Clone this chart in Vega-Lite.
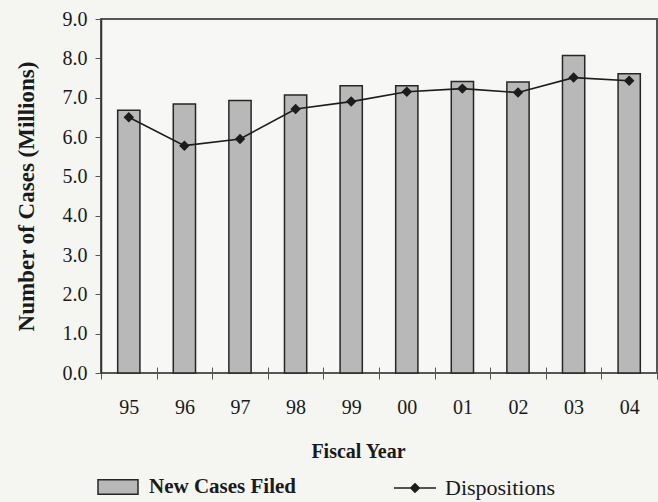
{
  "$schema": "https://vega.github.io/schema/vega-lite/v6.json",
  "width": 556,
  "height": 354,
  "autosize": {"type": "none"},
  "padding": {"left": 101, "top": 19, "right": 1, "bottom": 129},
  "background": "#f5f5f2",
  "config": {
    "font": "Liberation Serif",
    "view": {"stroke": "#555555", "strokeWidth": 2, "fill": "#f7f7f5"},
    "axis": {"labelFont": "Liberation Serif", "titleFont": "Liberation Serif"},
    "axisY": {
      "labelFont": "Liberation Serif",
      "labelFontSize": 20,
      "labelColor": "#1a1a1a",
      "labelPadding": 8,
      "labelOverlap": false,
      "tickSize": 6,
      "tickColor": "#555",
      "domainColor": "#333",
      "domainWidth": 1.5,
      "grid": true,
      "gridColor": "#555555",
      "gridWidth": 1.5,
      "gridOpacity": {"condition": {"test": "datum.value === 9", "value": 1}, "value": 0},
      "titleFontWeight": "bold",
      "titleFontSize": 23,
      "titleColor": "#1a1a1a",
      "titlePadding": 24
    },
    "axisX": {"domain": false},
    "legend": {"labelFont": "Liberation Serif", "titleFont": "Liberation Serif"}
  },
  "data": {
    "values": [
      {"year": "95", "filed": 6.68, "dispositions": 6.50},
      {"year": "96", "filed": 6.84, "dispositions": 5.78},
      {"year": "97", "filed": 6.93, "dispositions": 5.95},
      {"year": "98", "filed": 7.07, "dispositions": 6.71},
      {"year": "99", "filed": 7.30, "dispositions": 6.90},
      {"year": "00", "filed": 7.30, "dispositions": 7.15},
      {"year": "01", "filed": 7.41, "dispositions": 7.23},
      {"year": "02", "filed": 7.40, "dispositions": 7.13},
      {"year": "03", "filed": 8.07, "dispositions": 7.51},
      {"year": "04", "filed": 7.61, "dispositions": 7.43}
    ]
  },
  "encoding": {
    "x": {
      "field": "year",
      "type": "ordinal",
      "sort": null,
      "scale": {"paddingInner": 0, "paddingOuter": 0},
      "axis": {
        "title": "Fiscal Year",
        "titleFontWeight": "bold",
        "titleFontSize": 20,
        "titleColor": "#1a1a1a",
        "titleX": 257,
        "titleY": 90,
        "titleAlign": "center",
        "titleBaseline": "alphabetic",
        "labelAngle": 0,
        "labelFont": "Liberation Serif",
        "labelFontSize": 20,
        "labelColor": "#1a1a1a",
        "labelBaseline": "alphabetic",
        "labelPadding": 34,
        "labelOverlap": false,
        "domain": false,
        "offset": -6,
        "tickBand": "extent",
        "tickSize": 12,
        "tickColor": "#555",
        "tickWidth": 1
      }
    }
  },
  "layer": [
    {
      "mark": {"type": "bar", "width": {"band": 0.4}, "stroke": "#262626", "strokeWidth": 1.5},
      "encoding": {
        "y": {
          "field": "filed",
          "type": "quantitative",
          "scale": {"domain": [0, 9], "nice": false},
          "axis": {
            "title": "Number of Cases (Millions)",
            "values": [0, 1, 2, 3, 4, 5, 6, 7, 8, 9],
            "format": ".1f",
            "labelFont": "Liberation Serif"
          }
        },
        "fill": {
          "datum": "New Cases Filed",
          "type": "nominal",
          "scale": {"range": ["#b8b8b8"]},
          "legend": {
            "title": null,
            "orient": "none",
            "legendX": -4,
            "legendY": 447,
            "padding": 0,
            "symbolType": "M-1,-0.36H1V0.36H-1Z",
            "symbolSize": 1600,
            "symbolStrokeColor": "#262626",
            "symbolStrokeWidth": 1.5,
            "labelFont": "Liberation Serif",
            "labelFontSize": 21,
            "labelFontWeight": "bold",
            "labelColor": "#1a1a1a",
            "labelOffset": 10
          }
        }
      }
    },
    {
      "mark": {"type": "line", "strokeWidth": 1.6},
      "encoding": {
        "y": {
          "field": "dispositions",
          "type": "quantitative",
          "axis": {
            "title": "Number of Cases (Millions)",
            "values": [0, 1, 2, 3, 4, 5, 6, 7, 8, 9],
            "format": ".1f",
            "labelFont": "Liberation Serif"
          }
        },
        "stroke": {
          "datum": "Dispositions",
          "type": "nominal",
          "scale": {"range": ["#1c1c1c"]},
          "legend": {
            "title": null,
            "orient": "none",
            "legendX": 292,
            "legendY": 447,
            "padding": 0,
            "symbolType": "M-1,0H1M0,-0.2L0.2,0L0,0.2L-0.2,0Z",
            "symbolSize": 1764,
            "symbolFillColor": "#1c1c1c",
            "symbolStrokeWidth": 1.6,
            "labelFont": "Liberation Serif",
            "labelFontSize": 22,
            "labelColor": "#1a1a1a",
            "labelOffset": 8
          }
        }
      }
    },
    {
      "mark": {"type": "point", "shape": "diamond", "filled": true, "size": 110, "color": "#1c1c1c", "opacity": 1},
      "encoding": {
        "y": {
          "field": "dispositions",
          "type": "quantitative",
          "axis": {
            "title": "Number of Cases (Millions)",
            "values": [0, 1, 2, 3, 4, 5, 6, 7, 8, 9],
            "format": ".1f",
            "labelFont": "Liberation Serif"
          }
        }
      }
    }
  ]
}
